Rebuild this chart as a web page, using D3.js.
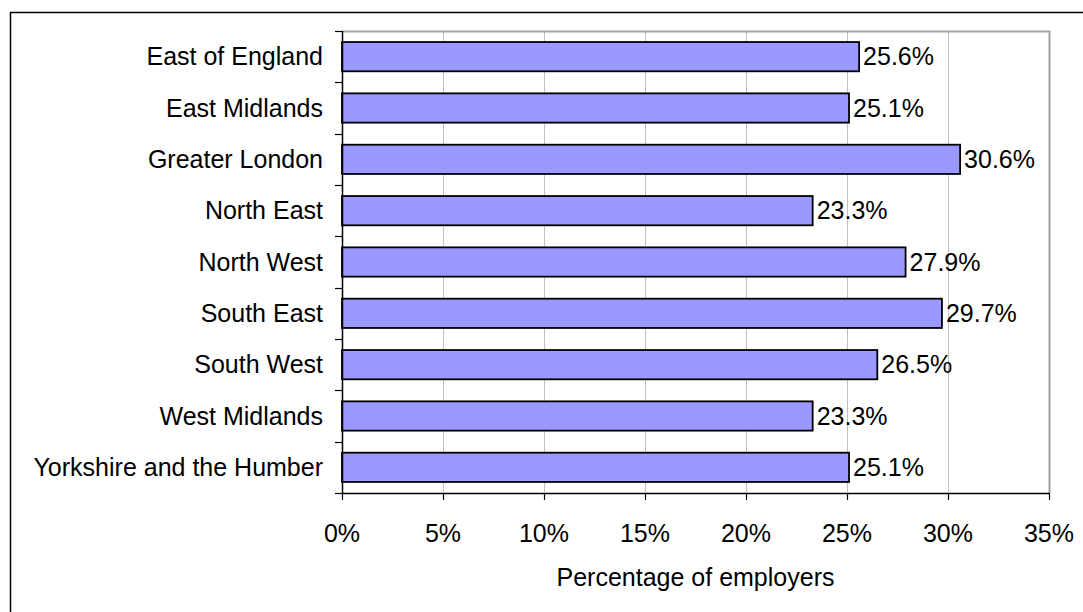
<!DOCTYPE html>
<html>
<head>
<meta charset="utf-8">
<script src="https://cdn.jsdelivr.net/npm/d3@7"></script>
<style>
  html, body { margin: 0; padding: 0; background: #fff; }
  svg { display: block; }
  text { font-family: "Liberation Sans", Arial, sans-serif; fill: #000; }
</style>
</head>
<body>
<svg id="chart" width="1083" height="612"></svg>
<script>
// Regions and share of employers (%)
const regions = [
  "East of England", "East Midlands", "Greater London", "North East",
  "North West", "South East", "South West", "West Midlands",
  "Yorkshire and the Humber"
];
const shares = [25.6, 25.1, 30.6, 23.3, 27.9, 29.7, 26.5, 23.3, 25.1];
const xTicks = [0, 5, 10, 15, 20, 25, 30, 35];
const xTitle = "Percentage of employers";

const svg = d3.select("#chart");
const W = 1083, H = 612;
const plot = { left: 342, right: 1049, top: 31, bottom: 493 };
const fontSize = 25;

// Outer chart frame (only top/left edges fall inside the view)
svg.append("rect")
  .attr("x", 10.5).attr("y", 12.5)
  .attr("width", W + 20).attr("height", H + 20)
  .attr("fill", "#fff").attr("stroke", "#000").attr("stroke-width", 1.5);

const x = d3.scaleLinear().domain([0, 35]).range([plot.left, plot.right]);
const y = d3.scaleBand().domain(regions).range([plot.top, plot.bottom])
  .paddingInner(0.43).paddingOuter(0.215);
const yEdges = d3.scaleLinear().domain([0, regions.length]).range([plot.top, plot.bottom]);

// Gridlines
svg.append("g").selectAll("line")
  .data(xTicks.slice(1, -1))
  .join("line")
  .attr("x1", d => Math.round(x(d)) + 0.5).attr("x2", d => Math.round(x(d)) + 0.5)
  .attr("y1", plot.top).attr("y2", plot.bottom)
  .attr("stroke", "#c0c0c0").attr("stroke-width", 1);

// Plot area frame: grey top and right
svg.append("path")
  .attr("d", `M${plot.left},${plot.top + 0.5}H${plot.right + 0.5}V${plot.bottom}`)
  .attr("fill", "none").attr("stroke", "#a0a0a0").attr("stroke-width", 2);

// Bars
svg.append("g").selectAll("rect")
  .data(regions)
  .join("rect")
  .attr("x", x(0))
  .attr("y", d => y(d))
  .attr("width", (d, i) => x(shares[i]) - x(0))
  .attr("height", y.bandwidth())
  .attr("fill", "#9999ff")
  .attr("stroke", "#000")
  .attr("stroke-width", 1.8);

// Value labels
svg.append("g").selectAll("text")
  .data(regions)
  .join("text")
  .attr("x", (d, i) => x(shares[i]) + 4)
  .attr("y", d => y(d) + y.bandwidth() / 2)
  .attr("dy", "0.35em")
  .attr("font-size", fontSize)
  .text((d, i) => shares[i].toFixed(1) + "%");

// Y axis: line, ticks at category boundaries, labels
const yAxisG = svg.append("g");
yAxisG.append("line")
  .attr("x1", plot.left + 0.5).attr("x2", plot.left + 0.5)
  .attr("y1", plot.top).attr("y2", plot.bottom)
  .attr("stroke", "#000").attr("stroke-width", 1.5);
yAxisG.selectAll("line.tick")
  .data(d3.range(regions.length + 1))
  .join("line").attr("class", "tick")
  .attr("x1", plot.left - 7).attr("x2", plot.left)
  .attr("y1", d => Math.round(yEdges(d)) + 0.5).attr("y2", d => Math.round(yEdges(d)) + 0.5)
  .attr("stroke", "#000").attr("stroke-width", 1.2);
yAxisG.selectAll("text")
  .data(regions)
  .join("text")
  .attr("x", plot.left - 19)
  .attr("y", d => y(d) + y.bandwidth() / 2)
  .attr("dy", "0.35em")
  .attr("text-anchor", "end")
  .attr("font-size", fontSize)
  .text(d => d);

// X axis
const xAxisG = svg.append("g");
xAxisG.append("line")
  .attr("x1", plot.left).attr("x2", plot.right + 1)
  .attr("y1", plot.bottom + 0.5).attr("y2", plot.bottom + 0.5)
  .attr("stroke", "#000").attr("stroke-width", 1.5);
xAxisG.selectAll("line.tick")
  .data(xTicks)
  .join("line").attr("class", "tick")
  .attr("x1", d => Math.round(x(d)) + 0.5).attr("x2", d => Math.round(x(d)) + 0.5)
  .attr("y1", plot.bottom).attr("y2", plot.bottom + 7)
  .attr("stroke", "#000").attr("stroke-width", 1.2);
xAxisG.selectAll("text")
  .data(xTicks)
  .join("text")
  .attr("x", d => x(d))
  .attr("y", 542)
  .attr("text-anchor", "middle")
  .attr("font-size", fontSize)
  .text(d => d + "%");

// X axis title
svg.append("text")
  .attr("x", (plot.left + plot.right) / 2)
  .attr("y", 586)
  .attr("text-anchor", "middle")
  .attr("font-size", fontSize)
  .text(xTitle);
</script>
</body>
</html>
